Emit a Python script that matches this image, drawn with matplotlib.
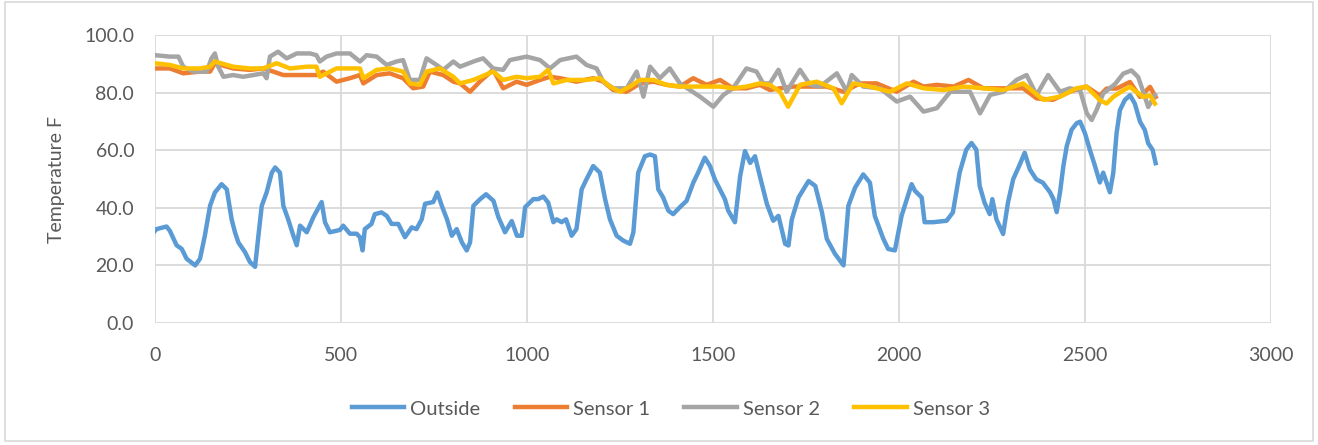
import matplotlib.pyplot as plt
from matplotlib.patches import Rectangle
from matplotlib.ticker import FormatStrFormatter

plt.rcParams['font.family'] = ['Lato', 'DejaVu Sans']

# values (x = sample index, y = deg F)
outside_x = [0, 4, 31, 40, 58, 72, 85, 108, 121, 134, 148, 161, 179, 193, 206, 215, 224, 242, 255, 269,
             278, 287, 300, 314, 323, 336, 345, 358, 372, 381, 390, 408, 426, 448, 457, 470, 497, 506, 524, 542,
             551, 558, 564, 582, 591, 609, 623, 636, 654, 672, 690, 703, 717, 726, 748, 759, 771, 785, 798, 811,
             825, 838, 847, 856, 874, 890, 910, 923, 941, 959, 973, 986, 995, 1017, 1030, 1044, 1057, 1071, 1080, 1093,
             1105, 1120, 1133, 1147, 1160, 1178, 1196, 1210, 1223, 1241, 1259, 1277, 1286, 1299, 1317, 1331, 1344, 1353, 1366, 1380,
             1393, 1411, 1429, 1447, 1460, 1478, 1492, 1505, 1523, 1532, 1541, 1559, 1573, 1586, 1600, 1613, 1627, 1645, 1662, 1676,
             1694, 1703, 1712, 1730, 1757, 1775, 1793, 1806, 1828, 1851, 1864, 1882, 1904, 1922, 1935, 1958, 1971, 1989, 2007, 2034,
             2043, 2061, 2069, 2092, 2128, 2145, 2163, 2181, 2195, 2208, 2217, 2230, 2244, 2251, 2262, 2280, 2293, 2307, 2325, 2338,
             2352, 2369, 2387, 2406, 2415, 2424, 2433, 2442, 2451, 2464, 2478, 2487, 2500, 2513, 2527, 2540, 2549, 2567, 2576, 2585,
             2594, 2607, 2621, 2634, 2648, 2661, 2670, 2682, 2690]
outside_y = [32, 32.6, 33.5, 32, 27, 25.7, 22.3, 20, 22.3, 30.3, 40.7, 45.3, 48.2, 46.4, 36, 31.5, 28, 24.6, 21.2, 19.5,
             30.3, 40.7, 45.3, 52.2, 54, 52.2, 40.7, 36, 30.3, 27, 33.8, 31.5, 36.8, 42, 35, 31.5, 32.3, 33.8, 31, 31,
             29.8, 25.2, 32.6, 34.4, 37.8, 38.4, 37.2, 34.4, 34.4, 29.8, 33.2, 32.6, 36, 41.4, 42, 45.3, 40.7, 36, 30.3, 32.6,
             28, 25.2, 28, 40.7, 43, 44.7, 42.4, 36.8, 31.5, 35.4, 30.3, 30.3, 40.2, 43, 43, 43.9, 41.8, 35, 36, 35,
             36, 30.3, 32.6, 46.4, 49.9, 54.5, 52.2, 43, 36, 30.3, 28.6, 27.5, 31.5, 52.2, 57.9, 58.5, 57.9, 46.4, 43.6, 39,
             37.8, 40.2, 42.4, 48.7, 52.2, 57.4, 54.5, 49.9, 45.3, 43, 39, 35, 51, 59.7, 55.6, 57.9, 50.5, 41.3, 35.5, 37.2,
             27.5, 26.9, 36, 43.6, 49.3, 47.6, 38.4, 29.2, 24, 20, 40.7, 47, 51.6, 48.7, 37.2, 29.2, 25.7, 25.2, 37.2, 48.2,
             45.9, 43.6, 35, 35, 35.5, 38.4, 52.2, 60.2, 62.5, 60.2, 47.6, 41.8, 37.8, 43, 36, 30.9, 41.8, 49.9, 55.1, 59.1,
             53.3, 49.9, 48.7, 45.4, 43.1, 38.5, 45.4, 54.5, 61.4, 67.1, 69.4, 69.9, 65.9, 60.2, 54.5, 48.8, 52.2, 45.4, 52, 65.9,
             73.9, 77.4, 79.1, 76.2, 69.9, 67, 62.4, 60.1, 55.5]

sensor1_x = [0, 40, 76, 121, 148, 161, 210, 255, 291, 318, 345, 390, 434, 452, 488, 524, 551, 560, 596, 631,
             667, 694, 721, 739, 775, 802, 820, 847, 873, 909, 936, 972, 999, 1035, 1062, 1089, 1133, 1178, 1205, 1232,
             1268, 1304, 1340, 1375, 1411, 1447, 1483, 1519, 1554, 1590, 1626, 1653, 1680, 1716, 1761, 1806, 1851, 1895, 1940, 1994,
             2039, 2066, 2102, 2147, 2187, 2227, 2281, 2334, 2370, 2414, 2459, 2504, 2540, 2558, 2585, 2621, 2648, 2675, 2690]
sensor1_y = [88.4, 88.4, 86.7, 87.3, 87.3, 90.2, 88.4, 87.9, 88.4, 87.3, 86.1, 86.1, 86.1, 87.3, 83.8, 85, 86.1, 83.2, 86.1, 86.7,
             85, 81.5, 82.1, 87.3, 86.1, 83.8, 83.2, 80.3, 83.8, 87.9, 81.5, 83.8, 82.7, 84.4, 85.5, 85, 83.8, 85, 83.8, 80.9,
             80.3, 83.2, 83.8, 82.7, 82.1, 85, 82.7, 84.4, 81.5, 81.5, 82.7, 80.9, 81.5, 82.1, 82.1, 82.1, 80.3, 83.2, 83.2, 80.3,
             83.8, 82.1, 82.7, 82.1, 84.4, 81.5, 81.5, 81.5, 78, 77.5, 80.3, 82.1, 79, 81.4, 81.4, 83.7, 78.5, 82, 78.5]

sensor2_x = [0, 40, 63, 76, 103, 139, 152, 161, 170, 184, 210, 237, 264, 291, 300, 309, 331, 354, 381, 417,
             434, 443, 461, 488, 524, 551, 569, 596, 623, 649, 667, 685, 712, 730, 757, 775, 802, 820, 856, 882,
             909, 936, 954, 999, 1035, 1062, 1089, 1133, 1160, 1187, 1205, 1232, 1268, 1295, 1313, 1331, 1357, 1384, 1411, 1438,
             1465, 1501, 1528, 1554, 1590, 1617, 1635, 1653, 1676, 1698, 1734, 1761, 1788, 1833, 1860, 1873, 1904, 1949, 1994, 2030,
             2066, 2102, 2138, 2191, 2218, 2245, 2281, 2316, 2343, 2370, 2401, 2433, 2459, 2487, 2505, 2518, 2531, 2549, 2581, 2603,
             2625, 2643, 2657, 2670, 2688]
sensor2_y = [93, 92.5, 92.5, 89, 87.3, 87.3, 91.9, 93.6, 89, 85.5, 86.1, 85.5, 86.1, 86.7, 85, 92.5, 94.2, 91.9, 93.6, 93.6,
             93, 90.8, 92.5, 93.6, 93.6, 90.8, 93, 92.5, 89.6, 90.8, 91.3, 84.4, 84.4, 91.9, 89.6, 87.9, 90.8, 89, 90.8, 91.9,
             88.4, 87.9, 91.3, 92.5, 91.3, 88.4, 91.3, 92.5, 89.6, 88.4, 83.8, 81.5, 81.5, 87.3, 78.6, 89, 85, 88.4, 83.2, 80.9,
             78.6, 75.1, 79.2, 81.5, 88.4, 87.3, 83.2, 83.2, 87.9, 80.3, 87.9, 82.7, 82.1, 86.7, 80.3, 86.1, 82.1, 81.5, 76.9, 78.6,
             73.4, 74.6, 80.3, 80.3, 72.8, 79.2, 80.3, 84.4, 86.1, 79.2, 86.1, 80.3, 81.5, 80.8, 72.8, 70.5, 73.9, 79.7, 83, 86.6,
             87.7, 85.4, 80.2, 75, 79.1]

sensor3_x = [0, 40, 76, 121, 148, 161, 210, 255, 291, 327, 363, 408, 434, 443, 488, 524, 551, 560, 596, 631,
             667, 685, 712, 730, 766, 802, 820, 856, 909, 936, 972, 999, 1035, 1057, 1071, 1107, 1160, 1196, 1223, 1250,
             1277, 1304, 1340, 1375, 1411, 1447, 1483, 1519, 1554, 1590, 1626, 1653, 1680, 1702, 1734, 1779, 1824, 1846, 1877, 1922,
             1976, 2021, 2066, 2120, 2174, 2227, 2281, 2334, 2388, 2433, 2477, 2504, 2540, 2558, 2576, 2603, 2621, 2639, 2657, 2675,
             2688]
sensor3_y = [90.2, 89.6, 88.4, 88.4, 89, 90.8, 89, 88.4, 88.4, 90.2, 88.4, 89, 89, 85.5, 88.4, 88.4, 88.4, 85, 87.9, 88.4,
             87.3, 83.2, 82.7, 87.3, 88.4, 85.5, 83.2, 84.4, 87.3, 84.4, 85.5, 85, 85.5, 87.9, 83.2, 84.4, 84.4, 85, 82.1, 80.3,
             82.1, 84.4, 84.4, 82.7, 82.1, 82.1, 82.1, 82.1, 81.5, 82.1, 83.2, 82.7, 80.3, 75.1, 82.7, 83.8, 81.5, 76.3, 83.2, 82.1,
             80.3, 83.2, 81.5, 80.9, 82.1, 81.5, 80.9, 83.2, 77.5, 78.6, 81.5, 82.1, 77.4, 76.2, 78.5, 80.8, 82, 80.2, 78.5, 79,
             76.2]

labels = ['Outside', 'Sensor 1', 'Sensor 2', 'Sensor 3']
colors = ['#5B9BD5', '#ED7D31', '#A5A5A5', '#FFC000']
txt = '#595959'

fig = plt.figure(figsize=(13.18, 4.45), dpi=100)
ax = fig.add_axes([0.1176, 0.2742, 0.8467, 0.6471])

series = [(outside_x, outside_y), (sensor1_x, sensor1_y), (sensor2_x, sensor2_y), (sensor3_x, sensor3_y)]
for (xs, ys), lab, c in zip(series, labels, colors):
    ax.plot(xs, ys, color=c, lw=3.2, label=lab, solid_joinstyle='round')

ax.set_xlim(0, 3000)
ax.set_ylim(0, 100)
ax.set_xticks(range(0, 3001, 500))
ax.set_yticks(range(0, 101, 20))
ax.yaxis.set_major_formatter(FormatStrFormatter('%.1f'))
ax.grid(True, color='#D9D9D9', lw=1.3)
ax.set_axisbelow(True)
for s in ax.spines.values():
    s.set_visible(False)
ax.tick_params(length=0, labelsize=14, colors=txt)
ax.tick_params(axis='y', pad=15)
ax.tick_params(axis='x', pad=17)
ax.set_ylabel('Temperature F', fontsize=14, color=txt, labelpad=14)

leg = fig.legend(loc='center', bbox_to_anchor=(0.509, 0.081), ncol=4, frameon=False,
                 fontsize=14.5, labelcolor=txt, handlelength=2.6, columnspacing=1.7, handletextpad=0.3)
for h in leg.get_lines():
    h.set_linewidth(3.2)

fig.patches.append(Rectangle((0.004, 0.01), 0.992, 0.985, transform=fig.transFigure,
                             fill=False, edgecolor='#D9D9D9', lw=1.2))

fig.savefig('out.png', dpi=100)
